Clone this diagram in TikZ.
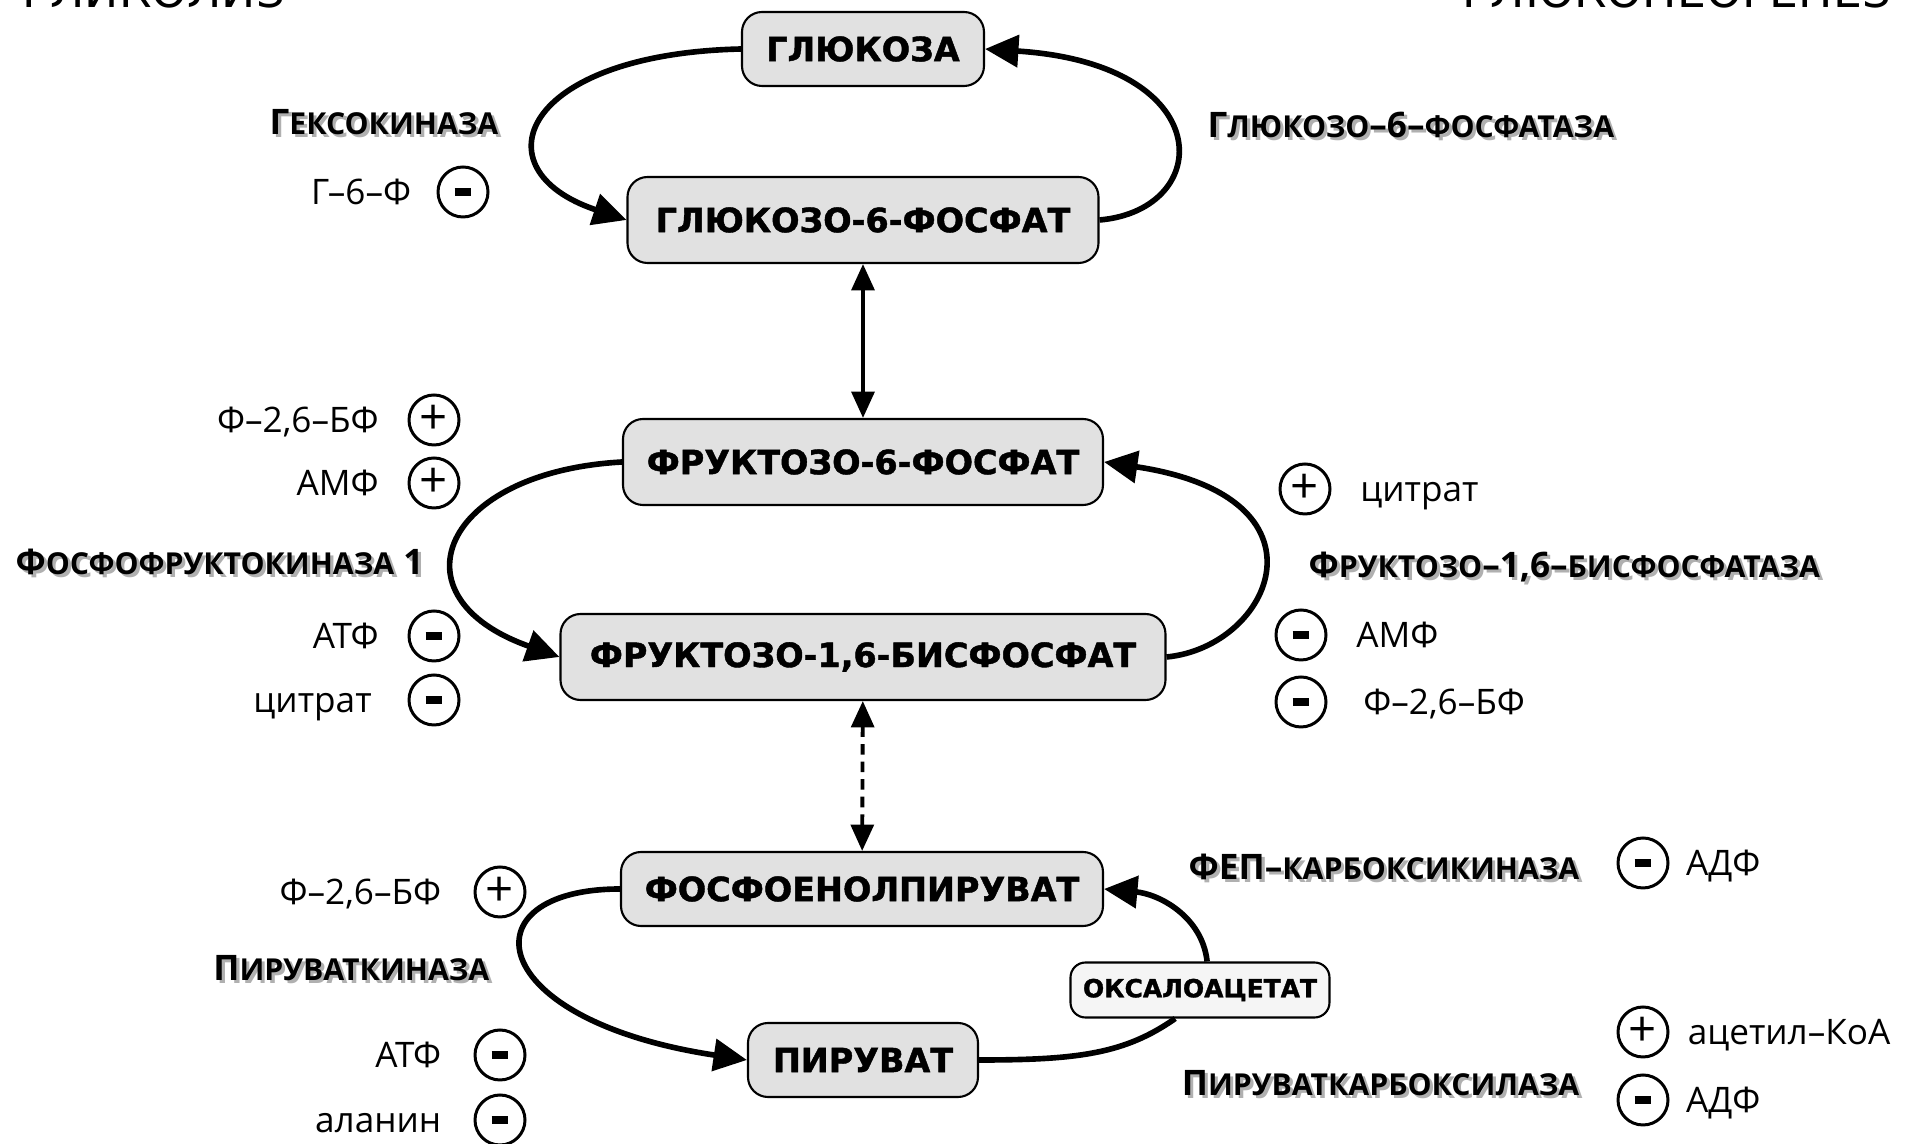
\documentclass[tikz,border=0pt]{standalone}
\usepackage{fontspec}
\setmainfont{Open Sans}
\newfontfamily\dejavu[BoldFeatures={FakeBold=1.3}]{DejaVu Sans}
\usetikzlibrary{arrows.meta,positioning}
\definecolor{ink}{HTML}{000000}
\definecolor{boxgray}{HTML}{E1E1E1}
\definecolor{boxlight}{HTML}{F5F5F5}
\definecolor{shade}{HTML}{B0B0B0}

\newcommand{\sm}[1]{{\fontsize{8.6pt}{9pt}\selectfont #1}}
\newcommand{\shadowed}[1]{\makebox[0pt][l]{\raisebox{-0.9pt}{\kern0.9pt\color{shade}#1}}#1}
\newcommand{\inh}{\rule{4.8pt}{2.1pt}}
\newcommand{\act}{{\fontsize{14pt}{14pt}\selectfont +}}

\begin{document}
\begin{tikzpicture}[
    line cap=butt, line join=miter,
    metab/.style={draw=ink, fill=boxgray, line width=0.6pt, rounded corners=0.2cm,
        font=\dejavu\bfseries\fontsize{9.5pt}{11pt}\selectfont, minimum height=0.86cm},
    flux/.style={ink, line width=1.6pt, -{Triangle[length=9.5pt,width=9pt]}},
    link/.style={ink, line width=1.1pt, {Triangle[length=7.5pt,width=6.5pt]}-{Triangle[length=7.5pt,width=6.5pt]}},
    sign/.style={circle, draw=ink, line width=0.85pt, minimum size=0.5cm, inner sep=0pt},
    reg/.style={font=\fontsize{10pt}{12pt}\selectfont, inner sep=0pt, text height=7.2pt, text depth=0pt},
    enzyme/.style={font=\bfseries\fontsize{10pt}{12pt}\selectfont, inner sep=0pt, text height=7.2pt, text depth=0pt},
    title/.style={font=\dejavu\fontsize{13pt}{15pt}\selectfont, inner sep=0pt},
]
\useasboundingbox (0,0) rectangle (19.1,-11.44);

% Titles (cut by the top edge)
\node[title, anchor=base west] (glycolysis) at (0.22,-0.08) {ГЛИКОЛИЗ};
\node[title, anchor=base east] (gluconeo) at (18.92,-0.08) {ГЛЮКОНЕОГЕНЕЗ};

% Metabolites
\node[metab, minimum width=2.42cm, minimum height=0.74cm] (glc) at (8.63,-0.49) {ГЛЮКОЗА};
\node[metab, minimum width=4.71cm] (g6p) at (8.63,-2.20) {ГЛЮКОЗО-6-ФОСФАТ};
\node[metab, minimum width=4.80cm] (f6p) at (8.63,-4.62) {ФРУКТОЗО-6-ФОСФАТ};
\node[metab, minimum width=6.05cm] (f16bp) at (8.63,-6.57) {ФРУКТОЗО-1,6-БИСФОСФАТ};
\node[metab, minimum width=4.82cm, minimum height=0.74cm] (pep) at (8.62,-8.89) {ФОСФОЕНОЛПИРУВАТ};
\node[metab, minimum width=2.30cm, minimum height=0.74cm] (pyr) at (8.63,-10.60) {ПИРУВАТ};
\node[metab, fill=boxlight, minimum width=2.59cm, minimum height=0.55cm, rounded corners=0.15cm,
    font=\dejavu\bfseries\fontsize{7.1pt}{8pt}\selectfont] (oaa) at (12.00,-9.90) {ОКСАЛОАЦЕТАТ};

% Reversible steps
\draw[link] (g6p) -- (f6p);
\draw[link, dash pattern=on 3pt off 2pt] (f16bp) -- (pep);

% Glycolysis / gluconeogenesis bypasses
\draw[flux] (glc.west) .. controls +(-2.2,-0.05) and +(-1.5,0.5) .. (g6p.west);
\draw[flux] (g6p.east) .. controls +(1.15,0.1) and +(2.35,-0.15) .. (glc.east);
\draw[flux] (f6p.west) .. controls +(-1.8,-0.1) and +(-1.7,0.6) .. (f16bp.west);
\draw[flux] (f16bp.east) .. controls +(1.05,0.1) and +(2.35,-0.35) .. (f6p.east);
\draw[flux] (pep.west) .. controls +(-1.55,0) and +(-2.65,0.4) .. (pyr.west);
\draw[flux, -] (pyr.east) .. controls +(1.0,0) and +(-0.5,-0.35) .. (oaa.229);
\draw[flux] (oaa.76) .. controls +(-0.05,0.45) and +(0.55,-0.05) .. (pep.east);

% Enzymes
\node[enzyme, anchor=east] (hk) at (4.99,-1.22) {\shadowed{Г\sm{ЕКСОКИНАЗА}}};
\node[enzyme, anchor=west] (g6pase) at (12.07,-1.25) {\shadowed{Г\sm{ЛЮКОЗО}–6–\sm{ФОСФАТАЗА}}};
\node[enzyme, anchor=west] (pfk) at (0.15,-5.62) {\shadowed{Ф\sm{ОСФОФРУКТОКИНАЗА} 1}};
\node[enzyme, anchor=west] (fbpase) at (13.08,-5.65) {\shadowed{Ф\sm{РУКТОЗО}–1,6–\sm{БИСФОСФАТАЗА}}};
\node[enzyme, anchor=east] (pk) at (4.90,-9.68) {\shadowed{П\sm{ИРУВАТКИНАЗА}}};
\node[enzyme, anchor=east] (pepck) at (15.80,-8.67) {\shadowed{ФЕП–\sm{КАРБОКСИКИНАЗА}}};
\node[enzyme, anchor=east] (pc) at (15.80,-10.83) {\shadowed{П\sm{ИРУВАТКАРБОКСИЛАЗА}}};

% Effectors, left side
\node[sign] (hkg6p) at (4.63,-1.92) {\inh};
\node[reg, left=7pt of hkg6p] (hkg6ptxt) {Г–6–Ф};
\node[sign] (pfkf26) at (4.34,-4.20) {\act};
\node[reg, left=8pt of pfkf26] (pfkf26txt) {Ф–2,6–БФ};
\node[sign] (pfkamp) at (4.34,-4.83) {\act};
\node[reg, left=8pt of pfkamp] (pfkamptxt) {АМФ};
\node[sign] (pfkatp) at (4.34,-6.36) {\inh};
\node[reg, left=8pt of pfkatp] (pfkatptxt) {АТФ};
\node[sign] (pfkcit) at (4.34,-7.00) {\inh};
\node[reg, left=10pt of pfkcit] (pfkcittxt) {цитрат};
\node[sign] (pkf26) at (5.00,-8.92) {\act};
\node[reg, left=9pt of pkf26] (pkf26txt) {Ф–2,6–БФ};
\node[sign] (pkatp) at (5.00,-10.55) {\inh};
\node[reg, left=9pt of pkatp] (pkatptxt) {АТФ};
\node[sign] (pkala) at (5.00,-11.20) {\inh};
\node[reg, left=9pt of pkala] (pkalatxt) {аланин};

% Effectors, right side
\node[sign] (fbpcit) at (13.05,-4.89) {\act};
\node[reg, right=8pt of fbpcit] (fbpcittxt) {цитрат};
\node[sign] (fbpamp) at (13.01,-6.35) {\inh};
\node[reg, right=8pt of fbpamp] (fbpamptxt) {АМФ};
\node[sign] (fbpf26) at (13.01,-7.02) {\inh};
\node[reg, right=10pt of fbpf26] (fbpf26txt) {Ф–2,6–БФ};
\node[sign] (pepckadp) at (16.43,-8.63) {\inh};
\node[reg, right=4.5pt of pepckadp] (pepckadptxt) {АДФ};
\node[sign] (pcacoa) at (16.43,-10.32) {\act};
\node[reg, right=5pt of pcacoa] (pcacoatxt) {ацетил–КоА};
\node[sign] (pcadp) at (16.43,-11.00) {\inh};
\node[reg, right=4.5pt of pcadp] (pcadptxt) {АДФ};

\end{tikzpicture}
\end{document}
